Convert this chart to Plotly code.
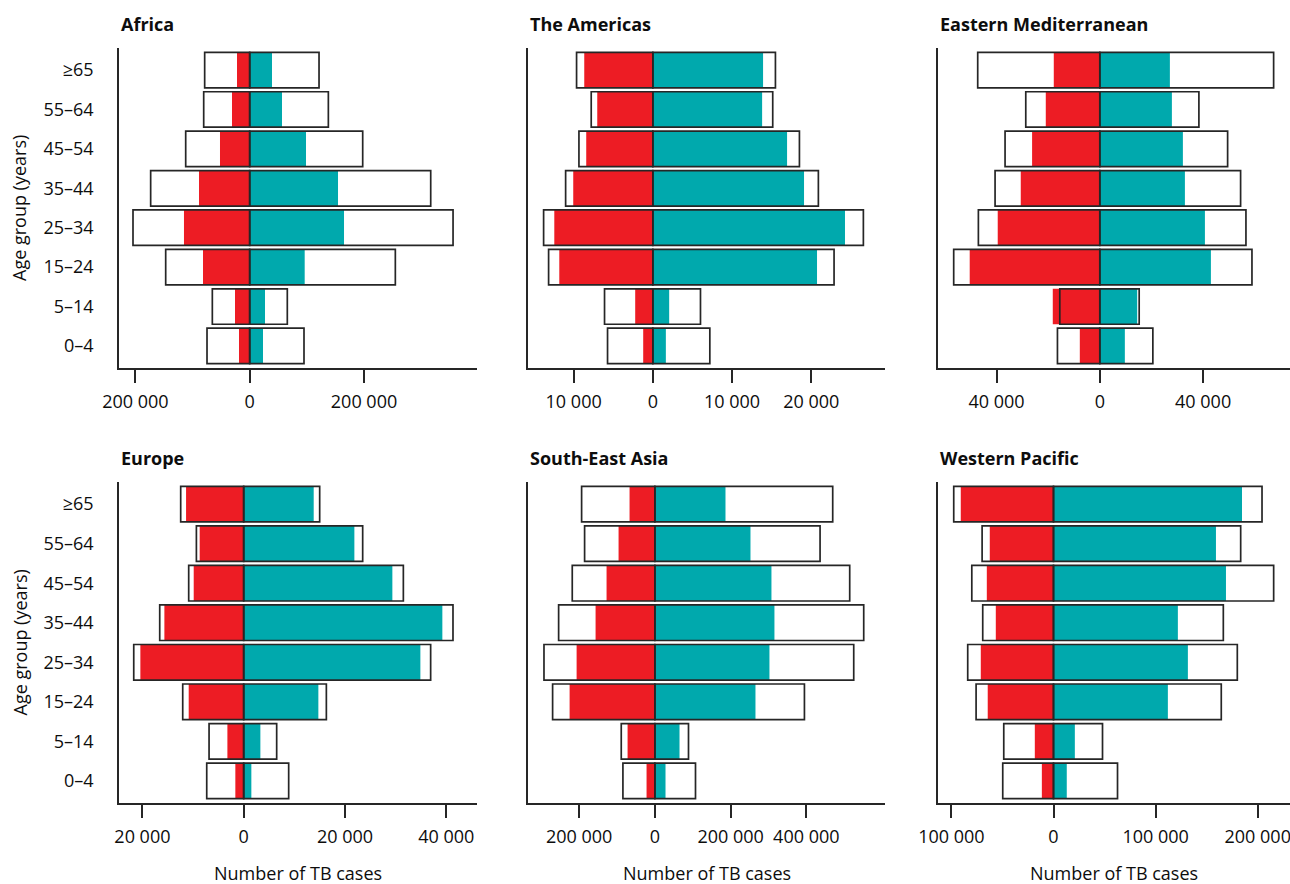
import plotly.graph_objects as go
from plotly.subplots import make_subplots

# age groups, bottom to top
age_groups = ["0–4", "5–14", "15–24", "25–34", "35–44", "45–54", "55–64", "≥65"]
regions = ["Africa", "The Americas", "Eastern Mediterranean",
           "Europe", "South-East Asia", "Western Pacific"]

# estimated incidence (white boxes) and notifications (coloured), women / men
africa_est_f = [74700, 65400, 147000, 204200, 173300, 112000, 80500, 78800]
africa_est_m = [95000, 65800, 254800, 355800, 316700, 197700, 137600, 121300]
africa_not_f = [18700, 25700, 81700, 115000, 88700, 52000, 31000, 22200]
africa_not_m = [23300, 26800, 96200, 165000, 154500, 98500, 56500, 39000]

amr_est_f = [5720, 6100, 13160, 13790, 11010, 9330, 7780, 9630]
amr_est_m = [7190, 6010, 22870, 26570, 20890, 18500, 15130, 15470]
amr_not_f = [1220, 2230, 11810, 12440, 10050, 8410, 7020, 8660]
amr_not_m = [1640, 2060, 20720, 24250, 19080, 16940, 13790, 13910]

emr_est_f = [16410, 15500, 56590, 47030, 40570, 36700, 28680, 47290]
emr_est_m = [20540, 15240, 58920, 56590, 54520, 49490, 38370, 67310]
emr_not_f = [7750, 18220, 50390, 39540, 30620, 26230, 20930, 17830]
emr_not_m = [9690, 14470, 43020, 40700, 32950, 32170, 27910, 27130]

eur_est_f = [7300, 6840, 12040, 21710, 16580, 10860, 9340, 12440]
eur_est_m = [8880, 6510, 16320, 36910, 41320, 31520, 23490, 15000]
eur_not_f = [1650, 3220, 10860, 20400, 15660, 9870, 8690, 11380]
eur_not_m = [1510, 3290, 14740, 34880, 39220, 29350, 21850, 13820]

sea_est_f = [84400, 88800, 270100, 292900, 254200, 218200, 185600, 193500]
sea_est_m = [107300, 88800, 395000, 525200, 551600, 514600, 436300, 469700]
sea_not_f = [22000, 72100, 225200, 206700, 156600, 127600, 95900, 66900]
sea_not_m = [28100, 65100, 265700, 302600, 315800, 307900, 252500, 186500]

wpr_est_f = [49700, 48700, 75800, 84000, 69300, 80000, 69900, 97700]
wpr_est_m = [62700, 48000, 164300, 180000, 166300, 215600, 183300, 204200]
wpr_not_f = [11400, 18300, 64400, 71200, 56500, 65300, 62400, 90800]
wpr_not_m = [13000, 20900, 112000, 131600, 121800, 168900, 159100, 184600]

africa_ticks = [-200000, 0, 200000]
amr_ticks = [-10000, 0, 10000, 20000]
emr_ticks = [-40000, 0, 40000]
eur_ticks = [-20000, 0, 20000, 40000]
sea_ticks = [-200000, 0, 200000, 400000]
wpr_ticks = [-100000, 0, 100000, 200000]

RED = "#ED1C24"
TEAL = "#00A9AD"
LINE = "#262626"
TXT = "#0d0d0d"
FONT = "Open Sans"
W, H = 1290, 884

panels = [
    (africa_est_f, africa_est_m, africa_not_f, africa_not_m, africa_ticks),
    (amr_est_f, amr_est_m, amr_not_f, amr_not_m, amr_ticks),
    (emr_est_f, emr_est_m, emr_not_f, emr_not_m, emr_ticks),
    (eur_est_f, eur_est_m, eur_not_f, eur_not_m, eur_ticks),
    (sea_est_f, sea_est_m, sea_not_f, sea_not_m, sea_ticks),
    (wpr_est_f, wpr_est_m, wpr_not_f, wpr_not_m, wpr_ticks),
]

# pixel layout of each panel: x-domain, y-domain (top, bottom), x range
x_px = [(119, 477), (528, 885), (938, 1290)]
y_px = [(48, 368), (482, 803)]
x_ranges = [(-228700, 397700), (-15760, 29300), (-62670, 73650),
            (-24620, 46060), (-335100, 607800), (-113100, 231600)]

fig = make_subplots(rows=2, cols=3)

for i, (est_f, est_m, not_f, not_m, ticks) in enumerate(panels):
    row, col = i // 3 + 1, i % 3 + 1
    neg = lambda v: [-a for a in v]
    # white estimate boxes
    for xs in (neg(est_f), est_m):
        fig.add_trace(go.Bar(x=xs, y=age_groups, orientation="h", width=0.9,
                             marker=dict(color="white", line=dict(width=0))),
                      row=row, col=col)
    # notifications
    fig.add_trace(go.Bar(x=neg(not_f), y=age_groups, orientation="h", width=0.9,
                         marker=dict(color=RED, line=dict(width=0))),
                  row=row, col=col)
    fig.add_trace(go.Bar(x=not_m, y=age_groups, orientation="h", width=0.9,
                         marker=dict(color=TEAL, line=dict(width=0))),
                  row=row, col=col)
    # estimate outlines on top
    for xs in (neg(est_f), est_m):
        fig.add_trace(go.Bar(x=xs, y=age_groups, orientation="h", width=0.9,
                             marker=dict(color="rgba(0,0,0,0)",
                                         line=dict(width=1.7, color=LINE))),
                      row=row, col=col)

    xd = x_px[col - 1]
    yd = y_px[row - 1]
    fig.update_xaxes(
        domain=[xd[0] / W, xd[1] / W], range=list(x_ranges[i]),
        tickvals=ticks, ticktext=[f"{abs(t):,}".replace(",", " ") for t in ticks],
        showline=True, linecolor=LINE, linewidth=1.6, ticks="outside",
        ticklen=13, tickwidth=1.6, tickcolor=LINE, showgrid=False, zeroline=False,
        ticklabelstandoff=4, ticklabeloverflow="allow",
        tickfont=dict(family=FONT, size=18, color=TXT),
        automargin=False, fixedrange=True, row=row, col=col)
    fig.update_yaxes(
        domain=[1 - yd[1] / H, 1 - yd[0] / H], range=[-0.56, 7.56],
        type="category", categoryarray=age_groups,
        showline=True, linecolor=LINE, linewidth=1.6, ticks="", showgrid=False,
        showticklabels=(col == 1), ticklabelstandoff=20,
        tickfont=dict(family=FONT, size=18, color=TXT),
        automargin=False, fixedrange=True, row=row, col=col)

    # panel title
    fig.add_annotation(text=f"<b>{regions[i]}</b>", xref="paper", yref="paper",
                       x=xd[0] / W, y=1 - (yd[0] - 24) / H, xanchor="left",
                       yanchor="middle", showarrow=False,
                       font=dict(family=FONT, size=18, color=TXT))
    if row == 2:
        fig.add_annotation(text="Number of TB cases", xref="paper", yref="paper",
                           x=(xd[0] + xd[1]) / 2 / W, y=1 - 873 / H,
                           xanchor="center", yanchor="middle", showarrow=False,
                           font=dict(family=FONT, size=18, color=TXT))
    if col == 1:
        fig.add_annotation(text="Age group (years)", xref="paper", yref="paper",
                           x=19 / W, y=1 - (yd[0] + yd[1]) / 2 / H, textangle=-90,
                           xanchor="center", yanchor="middle", showarrow=False,
                           font=dict(family=FONT, size=18, color=TXT))

fig.update_layout(
    width=W, height=H, barmode="overlay", showlegend=False,
    margin=dict(l=0, r=0, t=0, b=0),
    paper_bgcolor="white", plot_bgcolor="white",
    font=dict(family=FONT, size=18, color=TXT),
)

# drop the default page margin so the figure sits at the window's corner
fig.write_html("out.html", config={"displayModeBar": False},
               post_script="document.body.style.margin='0';")
